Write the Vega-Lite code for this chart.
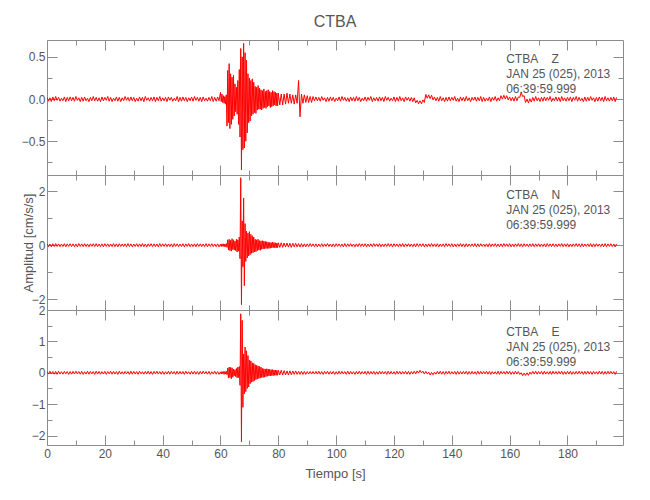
{
"$schema": "https://vega.github.io/schema/vega-lite/v6.json",
"padding": {"left": 20, "top": 14, "right": 5, "bottom": 5},
"title": {"text": "CTBA", "fontSize": 16, "font": "Liberation Sans", "color": "#555555", "fontWeight": "normal", "anchor": "middle", "frame": "group", "offset": 9},
"config": {
  "font": "Liberation Sans",
  "view": {"stroke": "#8c8c8c", "strokeWidth": 1},
  "axis": {"labelFont": "Liberation Sans", "labelFontSize": 12, "labelColor": "#555555", "tickColor": "#8c8c8c", "tickWidth": 1, "domain": false, "grid": false, "labelFlush": false, "labelOverlap": false, "labelBound": false, "titleFont": "Liberation Sans", "titleFontSize": 13, "titleFontWeight": "normal", "titleColor": "#555555"},
  "text": {"font": "Liberation Sans"}
},
"data": {"values": [
{"t":0,"z":0.02,"n":0.05,"e":0.045},{"t":0.5,"z":-0.025,"n":-0.055,"e":-0.04},{"t":1,"z":0.015,"n":0.045,"e":0.05},{"t":1.5,"z":-0.03,"n":-0.06,"e":-0.035},{"t":2,"z":0.025,"n":0.055,"e":0.04},{"t":2.5,"z":-0.02,"n":-0.05,"e":-0.045},{"t":3,"z":0.03,"n":0.06,"e":0.045},{"t":3.5,"z":-0.015,"n":-0.045,"e":-0.05},{"t":4,"z":0.02,"n":0.05,"e":0.05},{"t":4.5,"z":-0.025,"n":-0.055,"e":-0.04},
{"t":5,"z":0.01,"n":0.045,"e":0.035},{"t":5.5,"z":-0.02,"n":-0.05,"e":-0.045},{"t":6,"z":0.025,"n":0.055,"e":0.045},{"t":6.5,"z":-0.03,"n":-0.06,"e":-0.035},{"t":7,"z":0.02,"n":0.05,"e":0.04},{"t":7.5,"z":-0.02,"n":-0.045,"e":-0.05},{"t":8,"z":0.025,"n":0.055,"e":0.04},{"t":8.5,"z":-0.02,"n":-0.05,"e":-0.045},{"t":9,"z":0.02,"n":0.05,"e":0.045},{"t":9.5,"z":-0.025,"n":-0.055,"e":-0.04},
{"t":10,"z":0.03,"n":0.045,"e":0.05},{"t":10.5,"z":-0.015,"n":-0.06,"e":-0.035},{"t":11,"z":0.015,"n":0.06,"e":0.04},{"t":11.5,"z":-0.03,"n":-0.045,"e":-0.045},{"t":12,"z":0.02,"n":0.05,"e":0.045},{"t":12.5,"z":-0.025,"n":-0.055,"e":-0.05},{"t":13,"z":0.025,"n":0.055,"e":0.035},{"t":13.5,"z":-0.02,"n":-0.05,"e":-0.04},{"t":14,"z":0.01,"n":0.045,"e":0.05},{"t":14.5,"z":-0.03,"n":-0.06,"e":-0.045},
{"t":15,"z":0.02,"n":0.05,"e":0.045},{"t":15.5,"z":-0.02,"n":-0.045,"e":-0.035},{"t":16,"z":0.03,"n":0.055,"e":0.04},{"t":16.5,"z":-0.02,"n":-0.05,"e":-0.05},{"t":17,"z":0.02,"n":0.06,"e":0.05},{"t":17.5,"z":-0.025,"n":-0.055,"e":-0.04},{"t":18,"z":0.015,"n":0.045,"e":0.045},{"t":18.5,"z":-0.03,"n":-0.05,"e":-0.045},{"t":19,"z":0.025,"n":0.05,"e":0.035},{"t":19.5,"z":-0.02,"n":-0.06,"e":-0.04},
{"t":20,"z":0.02,"n":0.055,"e":0.045},{"t":20.5,"z":-0.015,"n":-0.045,"e":-0.05},{"t":21,"z":0.03,"n":0.05,"e":0.04},{"t":21.5,"z":-0.025,"n":-0.055,"e":-0.035},{"t":22,"z":0.02,"n":0.045,"e":0.05},{"t":22.5,"z":-0.03,"n":-0.05,"e":-0.045},{"t":23,"z":0.01,"n":0.06,"e":0.045},{"t":23.5,"z":-0.02,"n":-0.055,"e":-0.04},{"t":24,"z":0.025,"n":0.05,"e":0.04},{"t":24.5,"z":-0.025,"n":-0.06,"e":-0.05},
{"t":25,"z":0.02,"n":0.055,"e":0.05},{"t":25.5,"z":-0.03,"n":-0.045,"e":-0.04},{"t":26,"z":0.015,"n":0.045,"e":0.035},{"t":26.5,"z":-0.02,"n":-0.05,"e":-0.045},{"t":27,"z":0.03,"n":0.05,"e":0.045},{"t":27.5,"z":-0.015,"n":-0.055,"e":-0.035},{"t":28,"z":0.02,"n":0.06,"e":0.04},{"t":28.5,"z":-0.025,"n":-0.05,"e":-0.05},{"t":29,"z":0.025,"n":0.05,"e":0.05},{"t":29.5,"z":-0.02,"n":-0.06,"e":-0.045},
{"t":30,"z":0.02,"n":0.045,"e":0.045},{"t":30.5,"z":-0.03,"n":-0.045,"e":-0.04},{"t":31,"z":0.01,"n":0.055,"e":0.04},{"t":31.5,"z":-0.025,"n":-0.055,"e":-0.05},{"t":32,"z":0.025,"n":0.05,"e":0.05},{"t":32.5,"z":-0.02,"n":-0.05,"e":-0.035},{"t":33,"z":0.02,"n":0.06,"e":0.035},{"t":33.5,"z":-0.03,"n":-0.055,"e":-0.045},{"t":34,"z":0.03,"n":0.045,"e":0.045},{"t":34.5,"z":-0.015,"n":-0.06,"e":-0.04},
{"t":35,"z":0.015,"n":0.05,"e":0.05},{"t":35.5,"z":-0.025,"n":-0.045,"e":-0.045},{"t":36,"z":0.02,"n":0.055,"e":0.04},{"t":36.5,"z":-0.02,"n":-0.05,"e":-0.05},{"t":37,"z":0.025,"n":0.05,"e":0.045},{"t":37.5,"z":-0.03,"n":-0.055,"e":-0.035},{"t":38,"z":0.02,"n":0.045,"e":0.05},{"t":38.5,"z":-0.02,"n":-0.06,"e":-0.04},{"t":39,"z":0.03,"n":0.06,"e":0.04},{"t":39.5,"z":-0.025,"n":-0.05,"e":-0.045},
{"t":40,"z":0.015,"n":0.05,"e":0.045},{"t":40.5,"z":-0.02,"n":-0.045,"e":-0.05},{"t":41,"z":0.02,"n":0.055,"e":0.035},{"t":41.5,"z":-0.03,"n":-0.055,"e":-0.04},{"t":42,"z":0.025,"n":0.045,"e":0.05},{"t":42.5,"z":-0.015,"n":-0.05,"e":-0.045},{"t":43,"z":0.02,"n":0.05,"e":0.045},{"t":43.5,"z":-0.025,"n":-0.06,"e":-0.035},{"t":44,"z":0.01,"n":0.06,"e":0.04},{"t":44.5,"z":-0.02,"n":-0.045,"e":-0.05},
{"t":45,"z":0.03,"n":0.05,"e":0.05},{"t":45.5,"z":-0.03,"n":-0.055,"e":-0.045},{"t":46,"z":0.02,"n":0.045,"e":0.045},{"t":46.5,"z":-0.025,"n":-0.05,"e":-0.04},{"t":47,"z":0.025,"n":0.055,"e":0.04},{"t":47.5,"z":-0.02,"n":-0.06,"e":-0.05},{"t":48,"z":0.02,"n":0.05,"e":0.05},{"t":48.5,"z":-0.03,"n":-0.045,"e":-0.035},{"t":49,"z":0.015,"n":0.06,"e":0.035},{"t":49.5,"z":-0.02,"n":-0.055,"e":-0.045},
{"t":50,"z":0.025,"n":0.045,"e":0.045},{"t":50.5,"z":-0.025,"n":-0.05,"e":-0.04},{"t":51,"z":0.03,"n":0.05,"e":0.05},{"t":51.5,"z":-0.015,"n":-0.06,"e":-0.045},{"t":52,"z":0.02,"n":0.055,"e":0.04},{"t":52.5,"z":-0.025,"n":-0.045,"e":-0.05},{"t":53,"z":0.02,"n":0.05,"e":0.045},{"t":53.5,"z":-0.03,"n":-0.055,"e":-0.04},{"t":54,"z":0.025,"n":0.045,"e":0.05},{"t":54.5,"z":-0.02,"n":-0.05,"e":-0.035},
{"t":55,"z":0.01,"n":0.06,"e":0.04},{"t":55.5,"z":-0.025,"n":-0.06,"e":-0.045},{"t":56,"z":0.02,"n":0.05,"e":0.045},{"t":56.5,"z":-0.02,"n":-0.045,"e":-0.05},{"t":57,"z":0.03,"n":0.055,"e":0.035},{"t":57.5,"z":-0.03,"n":-0.05,"e":-0.04},{"t":58,"z":0.02,"n":0.045,"e":0.05},{"t":58.5,"z":-0.025,"n":-0.055,"e":-0.045},{"t":59,"z":0.025,"n":0.05,"e":0.04},{"t":59.5,"z":-0.02,"n":-0.06,"e":-0.05},
{"t":60,"z":0.08,"n":0.04,"e":0.03},{"t":60.25,"z":-0.03,"n":-0.05,"e":-0.04},{"t":60.5,"z":0.06,"n":0.05,"e":0.04},{"t":60.75,"z":-0.04,"n":-0.04,"e":-0.03},
{"t":61,"z":0.04,"n":0.05,"e":0.04},{"t":61.25,"z":-0.05,"n":-0.06,"e":-0.05},{"t":61.5,"z":0.03,"n":0.04,"e":0.04},{"t":61.75,"z":-0.06,"n":-0.05,"e":-0.04},
{"t":62,"z":0.05,"n":0.06,"e":0.05},{"t":62.25,"z":-0.32,"n":-0.08,"e":-0.06},{"t":62.5,"z":0.34,"n":0.2,"e":0.15},{"t":62.75,"z":-0.28,"n":-0.18,"e":-0.17},
{"t":63,"z":0.42,"n":0.22,"e":0.18},{"t":63.25,"z":-0.35,"n":-0.2,"e":-0.15},{"t":63.5,"z":0.3,"n":0.18,"e":0.17},{"t":63.75,"z":-0.3,"n":-0.22,"e":-0.19},
{"t":64,"z":0.26,"n":0.24,"e":0.16},{"t":64.25,"z":-0.24,"n":-0.16,"e":-0.14},{"t":64.5,"z":0.28,"n":0.2,"e":0.12},{"t":64.75,"z":-0.2,"n":-0.18,"e":-0.1},
{"t":65,"z":0.18,"n":0.15,"e":0.1},{"t":65.25,"z":-0.15,"n":-0.2,"e":-0.12},{"t":65.5,"z":0.14,"n":0.22,"e":0.14},{"t":65.75,"z":-0.18,"n":-0.25,"e":-0.16},
{"t":66,"z":0.22,"n":0.2,"e":0.18},{"t":66.25,"z":-0.3,"n":-0.22,"e":-0.15},{"t":66.5,"z":0.35,"n":0.3,"e":0.2},{"t":66.75,"z":-0.45,"n":-0.5,"e":-0.4},
{"t":67,"z":0.6,"n":2.5,"e":1.88},{"t":67.25,"z":-0.84,"n":-2.2,"e":-2.2},{"t":67.5,"z":0.5,"n":0.9,"e":1.67},{"t":67.75,"z":-0.6,"n":-0.8,"e":-1.1},
{"t":68,"z":0.66,"n":1.75,"e":0.6},{"t":68.25,"z":-0.58,"n":-1.5,"e":-0.67},{"t":68.5,"z":0.55,"n":0.8,"e":0.82},{"t":68.75,"z":-0.5,"n":-0.6,"e":-0.6},
{"t":69,"z":0.46,"n":0.52,"e":0.7},{"t":69.25,"z":-0.4,"n":-0.47,"e":-0.5},{"t":69.5,"z":0.3,"n":0.45,"e":0.55},{"t":69.75,"z":-0.28,"n":-0.4,"e":-0.45},
{"t":70,"z":0.25,"n":0.5,"e":0.4},{"t":70.25,"z":-0.26,"n":-0.35,"e":-0.35},{"t":70.5,"z":0.22,"n":0.4,"e":0.38},{"t":70.75,"z":-0.2,"n":-0.3,"e":-0.3},
{"t":71,"z":0.24,"n":0.35,"e":0.32},{"t":71.25,"z":-0.18,"n":-0.28,"e":-0.28},{"t":71.5,"z":0.2,"n":0.3,"e":0.3},{"t":71.75,"z":-0.16,"n":-0.25,"e":-0.25},
{"t":72,"z":0.15,"n":0.22,"e":0.26},{"t":72.25,"z":-0.17,"n":-0.24,"e":-0.22},{"t":72.5,"z":0.14,"n":0.2,"e":0.24},{"t":72.75,"z":-0.13,"n":-0.2,"e":-0.2},
{"t":73,"z":0.16,"n":0.22,"e":0.22},{"t":73.25,"z":-0.12,"n":-0.18,"e":-0.18},{"t":73.5,"z":0.13,"n":0.17,"e":0.2},{"t":73.75,"z":-0.12,"n":-0.19,"e":-0.17},
{"t":74,"z":0.11,"n":0.16,"e":0.18},{"t":74.25,"z":-0.13,"n":-0.15,"e":-0.15},{"t":74.5,"z":0.1,"n":0.17,"e":0.14},{"t":74.75,"z":-0.11,"n":-0.14,"e":-0.15},
{"t":75,"z":0.12,"n":0.15,"e":0.13},{"t":75.25,"z":-0.1,"n":-0.13,"e":-0.14},{"t":75.5,"z":0.09,"n":0.14,"e":0.12},{"t":75.75,"z":-0.11,"n":-0.12,"e":-0.12},
{"t":76,"z":0.1,"n":0.13,"e":0.13},{"t":76.25,"z":-0.09,"n":-0.12,"e":-0.11},{"t":76.5,"z":0.11,"n":0.11,"e":0.12},{"t":76.75,"z":-0.08,"n":-0.12,"e":-0.1},
{"t":77,"z":0.09,"n":0.1,"e":0.11},{"t":77.25,"z":-0.1,"n":-0.11,"e":-0.1},{"t":77.5,"z":0.08,"n":0.1,"e":0.1},{"t":77.75,"z":-0.09,"n":-0.1,"e":-0.09},
{"t":78,"z":0.1,"n":0.11,"e":0.1},{"t":78.25,"z":-0.08,"n":-0.09,"e":-0.09},{"t":78.5,"z":0.09,"n":0.1,"e":0.09},{"t":78.75,"z":-0.07,"n":-0.09,"e":-0.08},
{"t":79,"z":0.08,"n":0.09,"e":0.09},{"t":79.25,"z":-0.08,"n":-0.1,"e":-0.08},{"t":79.5,"z":0.07,"n":0.08,"e":0.08},{"t":79.75,"z":-0.08,"n":-0.09,"e":-0.08},
{"t":80,"z":0.07,"n":0.09,"e":0.08},{"t":80.5,"z":-0.07,"n":-0.08,"e":-0.07},{"t":81,"z":0.06,"n":0.09,"e":0.08},{"t":81.5,"z":-0.07,"n":-0.08,"e":-0.07},
{"t":82,"z":0.06,"n":0.08,"e":0.07},{"t":82.5,"z":-0.06,"n":-0.07,"e":-0.07},{"t":83,"z":0.07,"n":0.08,"e":0.06},{"t":83.5,"z":-0.05,"n":-0.07,"e":-0.07},
{"t":84,"z":0.06,"n":0.07,"e":0.06},{"t":84.5,"z":-0.05,"n":-0.08,"e":-0.06},{"t":85,"z":0.05,"n":0.07,"e":0.06},{"t":85.5,"z":-0.06,"n":-0.06,"e":-0.05},
{"t":86,"z":0.05,"n":0.07,"e":0.06},{"t":86.5,"z":-0.05,"n":-0.06,"e":-0.05},{"t":87,"z":0.22,"n":0.06,"e":0.05},{"t":87.5,"z":-0.21,"n":-0.07,"e":-0.05},
{"t":88,"z":0.06,"n":0.06,"e":0.05},{"t":88.5,"z":-0.05,"n":-0.06,"e":-0.05},{"t":89,"z":0.05,"n":0.05,"e":0.04},{"t":89.5,"z":-0.04,"n":-0.06,"e":-0.05},
{"t":90,"z":0.04,"n":0.05,"e":0.04},{"t":90.5,"z":-0.04,"n":-0.05,"e":-0.04},{"t":91,"z":0.03,"n":0.06,"e":0.04},{"t":91.5,"z":-0.04,"n":-0.05,"e":-0.04},
{"t":92,"z":0.03,"n":0.05,"e":0.04},{"t":92.5,"z":-0.02,"n":-0.055,"e":-0.04},
{"t":93,"z":0.025,"n":0.05,"e":0.045},{"t":93.5,"z":-0.02,"n":-0.06,"e":-0.04},{"t":94,"z":0.02,"n":0.045,"e":0.05},{"t":94.5,"z":-0.025,"n":-0.05,"e":-0.045},{"t":95,"z":0.03,"n":0.055,"e":0.04},{"t":95.5,"z":-0.015,"n":-0.055,"e":-0.05},{"t":96,"z":0.015,"n":0.05,"e":0.045},{"t":96.5,"z":-0.03,"n":-0.045,"e":-0.035},
{"t":97,"z":0.02,"n":0.06,"e":0.05},{"t":97.5,"z":-0.025,"n":-0.05,"e":-0.045},{"t":98,"z":0.025,"n":0.045,"e":0.04},{"t":98.5,"z":-0.02,"n":-0.06,"e":-0.04},{"t":99,"z":0.02,"n":0.05,"e":0.045},{"t":99.5,"z":-0.03,"n":-0.055,"e":-0.05},
{"t":100,"z":0.01,"n":0.055,"e":0.035},{"t":100.5,"z":-0.02,"n":-0.045,"e":-0.045},{"t":101,"z":0.025,"n":0.05,"e":0.05},{"t":101.5,"z":-0.025,"n":-0.05,"e":-0.04},{"t":102,"z":0.03,"n":0.045,"e":0.045},{"t":102.5,"z":-0.015,"n":-0.06,"e":-0.035},{"t":103,"z":0.02,"n":0.06,"e":0.04},{"t":103.5,"z":-0.025,"n":-0.055,"e":-0.05},
{"t":104,"z":0.015,"n":0.05,"e":0.05},{"t":104.5,"z":-0.03,"n":-0.045,"e":-0.045},{"t":105,"z":0.025,"n":0.055,"e":0.045},{"t":105.5,"z":-0.02,"n":-0.05,"e":-0.04},{"t":106,"z":0.02,"n":0.045,"e":0.035},{"t":106.5,"z":-0.025,"n":-0.06,"e":-0.05},{"t":107,"z":0.03,"n":0.05,"e":0.045},{"t":107.5,"z":-0.02,"n":-0.055,"e":-0.04},
{"t":108,"z":0.02,"n":0.06,"e":0.05},{"t":108.5,"z":-0.03,"n":-0.045,"e":-0.045},{"t":109,"z":0.01,"n":0.05,"e":0.04},{"t":109.5,"z":-0.02,"n":-0.05,"e":-0.035},{"t":110,"z":0.025,"n":0.055,"e":0.045},{"t":110.5,"z":-0.025,"n":-0.06,"e":-0.05},{"t":111,"z":0.02,"n":0.045,"e":0.05},{"t":111.5,"z":-0.015,"n":-0.05,"e":-0.045},
{"t":112,"z":0.03,"n":0.05,"e":0.04},{"t":112.5,"z":-0.03,"n":-0.055,"e":-0.04},{"t":113,"z":0.015,"n":0.06,"e":0.045},{"t":113.5,"z":-0.02,"n":-0.045,"e":-0.05},{"t":114,"z":0.02,"n":0.05,"e":0.035},{"t":114.5,"z":-0.025,"n":-0.05,"e":-0.045},{"t":115,"z":0.025,"n":0.055,"e":0.05},{"t":115.5,"z":-0.02,"n":-0.06,"e":-0.04},
{"t":116,"z":0.02,"n":0.045,"e":0.045},{"t":116.5,"z":-0.03,"n":-0.055,"e":-0.035},{"t":117,"z":0.03,"n":0.05,"e":0.04},{"t":117.5,"z":-0.015,"n":-0.045,"e":-0.05},{"t":118,"z":0.02,"n":0.06,"e":0.05},{"t":118.5,"z":-0.025,"n":-0.05,"e":-0.045},{"t":119,"z":0.01,"n":0.05,"e":0.045},{"t":119.5,"z":-0.02,"n":-0.06,"e":-0.04},
{"t":120,"z":0.025,"n":0.055,"e":0.035},{"t":120.5,"z":-0.03,"n":-0.045,"e":-0.05},{"t":121,"z":0.02,"n":0.045,"e":0.05},{"t":121.5,"z":-0.025,"n":-0.055,"e":-0.04},{"t":122,"z":0.03,"n":0.05,"e":0.045},{"t":122.5,"z":-0.02,"n":-0.05,"e":-0.045},{"t":123,"z":0.015,"n":0.06,"e":0.04},{"t":123.5,"z":-0.03,"n":-0.06,"e":-0.035},
{"t":124,"z":0.025,"n":0.05,"e":0.05},{"t":124.5,"z":-0.015,"n":-0.045,"e":-0.045},{"t":125,"z":0.02,"n":0.055,"e":0.045},{"t":125.5,"z":-0.025,"n":-0.05,"e":-0.05},{"t":126,"z":0.02,"n":0.045,"e":0.04},{"t":126.5,"z":-0.03,"n":-0.055,"e":-0.04},{"t":127,"z":0.015,"n":0.05,"e":0.05},{"t":127.5,"z":-0.045,"n":-0.06,"e":-0.035},
{"t":128,"z":-0.015,"n":0.06,"e":0.06},{"t":128.5,"z":-0.055,"n":-0.045,"e":-0.01},{"t":129,"z":-0.02,"n":0.05,"e":0.08},{"t":129.5,"z":-0.055,"n":-0.05,"e":-0.005},{"t":130,"z":-0.01,"n":0.055,"e":0.05},{"t":130.5,"z":-0.04,"n":-0.06,"e":-0.04},{"t":131,"z":0.055,"n":0.045,"e":0.045},{"t":131.5,"z":0.01,"n":-0.055,"e":-0.035},
{"t":132,"z":0.05,"n":0.05,"e":0.02},{"t":132.5,"z":0.005,"n":-0.05,"e":-0.07},{"t":133,"z":0.045,"n":0.06,"e":0.015},{"t":133.5,"z":-0.01,"n":-0.045,"e":-0.065},{"t":134,"z":0.025,"n":0.05,"e":0.02},{"t":134.5,"z":-0.02,"n":-0.055,"e":-0.045},{"t":135,"z":0.02,"n":0.055,"e":0.045},{"t":135.5,"z":-0.025,"n":-0.06,"e":-0.04},
{"t":136,"z":0.03,"n":0.045,"e":0.05},{"t":136.5,"z":-0.02,"n":-0.05,"e":-0.045},{"t":137,"z":0.015,"n":0.05,"e":0.04},{"t":137.5,"z":-0.03,"n":-0.055,"e":-0.05},{"t":138,"z":0.02,"n":0.06,"e":0.045},{"t":138.5,"z":-0.025,"n":-0.045,"e":-0.035},{"t":139,"z":0.025,"n":0.05,"e":0.05},{"t":139.5,"z":-0.02,"n":-0.05,"e":-0.045},
{"t":140,"z":0.02,"n":0.055,"e":0.035},{"t":140.5,"z":-0.015,"n":-0.06,"e":-0.04},{"t":141,"z":0.03,"n":0.045,"e":0.045},{"t":141.5,"z":-0.025,"n":-0.055,"e":-0.05},{"t":142,"z":0.01,"n":0.05,"e":0.05},{"t":142.5,"z":-0.03,"n":-0.045,"e":-0.045},{"t":143,"z":0.025,"n":0.06,"e":0.04},{"t":143.5,"z":-0.02,"n":-0.05,"e":-0.04},
{"t":144,"z":0.02,"n":0.05,"e":0.045},{"t":144.5,"z":-0.025,"n":-0.06,"e":-0.035},{"t":145,"z":0.03,"n":0.055,"e":0.05},{"t":145.5,"z":-0.02,"n":-0.055,"e":-0.05},{"t":146,"z":0.015,"n":0.045,"e":0.04},{"t":146.5,"z":-0.03,"n":-0.045,"e":-0.045},{"t":147,"z":0.02,"n":0.05,"e":0.045},{"t":147.5,"z":-0.015,"n":-0.05,"e":-0.04},
{"t":148,"z":0.025,"n":0.06,"e":0.035},{"t":148.5,"z":-0.025,"n":-0.06,"e":-0.05},{"t":149,"z":0.02,"n":0.05,"e":0.05},{"t":149.5,"z":-0.02,"n":-0.055,"e":-0.045},{"t":150,"z":0.03,"n":0.055,"e":0.045},{"t":150.5,"z":-0.03,"n":-0.045,"e":-0.04},{"t":151,"z":0.02,"n":0.045,"e":0.04},{"t":151.5,"z":-0.025,"n":-0.05,"e":-0.035},
{"t":152,"z":0.01,"n":0.05,"e":0.05},{"t":152.5,"z":-0.02,"n":-0.06,"e":-0.045},{"t":153,"z":0.025,"n":0.06,"e":0.045},{"t":153.5,"z":-0.03,"n":-0.055,"e":-0.05},{"t":154,"z":0.02,"n":0.05,"e":0.04},{"t":154.5,"z":-0.015,"n":-0.045,"e":-0.04},{"t":155,"z":0.03,"n":0.055,"e":0.035},{"t":155.5,"z":-0.025,"n":-0.05,"e":-0.045},
{"t":156,"z":0.015,"n":0.045,"e":0.05},{"t":156.5,"z":-0.02,"n":-0.06,"e":-0.05},{"t":157,"z":0.04,"n":0.05,"e":0.045},{"t":157.5,"z":0.0,"n":-0.055,"e":-0.035},{"t":158,"z":0.045,"n":0.06,"e":0.04},{"t":158.5,"z":0.0,"n":-0.045,"e":-0.045},{"t":159,"z":0.04,"n":0.05,"e":0.05},{"t":159.5,"z":-0.01,"n":-0.05,"e":-0.04},
{"t":160,"z":0.025,"n":0.055,"e":0.045},{"t":160.5,"z":-0.02,"n":-0.06,"e":-0.05},{"t":161,"z":0.02,"n":0.045,"e":0.035},{"t":161.5,"z":-0.025,"n":-0.055,"e":-0.045},{"t":162,"z":0.03,"n":0.05,"e":0.05},{"t":162.5,"z":-0.02,"n":-0.045,"e":-0.04},{"t":163,"z":0.025,"n":0.06,"e":0.04},{"t":163.5,"z":0.02,"n":-0.05,"e":-0.05},
{"t":164,"z":0.08,"n":0.05,"e":0.0},{"t":164.5,"z":0.03,"n":-0.06,"e":-0.09},{"t":165,"z":0.04,"n":0.055,"e":-0.01},{"t":165.5,"z":-0.04,"n":-0.045,"e":-0.085},{"t":166,"z":0.0,"n":0.045,"e":0.0},{"t":166.5,"z":-0.045,"n":-0.055,"e":-0.08},{"t":167,"z":0.005,"n":0.05,"e":0.02},{"t":167.5,"z":-0.035,"n":-0.05,"e":-0.045},
{"t":168,"z":0.02,"n":0.06,"e":0.045},{"t":168.5,"z":-0.025,"n":-0.06,"e":-0.04},{"t":169,"z":0.03,"n":0.05,"e":0.05},{"t":169.5,"z":-0.02,"n":-0.045,"e":-0.045},{"t":170,"z":0.015,"n":0.055,"e":0.04},{"t":170.5,"z":-0.03,"n":-0.055,"e":-0.035},{"t":171,"z":0.02,"n":0.045,"e":0.045},{"t":171.5,"z":-0.025,"n":-0.05,"e":-0.05},
{"t":172,"z":0.025,"n":0.05,"e":0.05},{"t":172.5,"z":-0.02,"n":-0.06,"e":-0.04},{"t":173,"z":0.02,"n":0.06,"e":0.035},{"t":173.5,"z":-0.015,"n":-0.045,"e":-0.045},{"t":174,"z":0.03,"n":0.05,"e":0.045},{"t":174.5,"z":-0.03,"n":-0.055,"e":-0.05},{"t":175,"z":0.01,"n":0.055,"e":0.05},{"t":175.5,"z":-0.02,"n":-0.05,"e":-0.04},
{"t":176,"z":0.025,"n":0.045,"e":0.04},{"t":176.5,"z":-0.025,"n":-0.06,"e":-0.045},{"t":177,"z":0.02,"n":0.05,"e":0.045},{"t":177.5,"z":-0.03,"n":-0.045,"e":-0.035},{"t":178,"z":0.03,"n":0.06,"e":0.05},{"t":178.5,"z":-0.02,"n":-0.055,"e":-0.05},{"t":179,"z":0.015,"n":0.05,"e":0.04},{"t":179.5,"z":-0.025,"n":-0.05,"e":-0.045},
{"t":180,"z":0.02,"n":0.055,"e":0.045},{"t":180.5,"z":-0.02,"n":-0.06,"e":-0.04},{"t":181,"z":0.025,"n":0.045,"e":0.05},{"t":181.5,"z":-0.03,"n":-0.055,"e":-0.05},{"t":182,"z":0.02,"n":0.05,"e":0.035},{"t":182.5,"z":-0.015,"n":-0.045,"e":-0.045},{"t":183,"z":0.03,"n":0.06,"e":0.045},{"t":183.5,"z":-0.025,"n":-0.05,"e":-0.04},
{"t":184,"z":0.02,"n":0.05,"e":0.05},{"t":184.5,"z":-0.02,"n":-0.06,"e":-0.035},{"t":185,"z":0.01,"n":0.055,"e":0.04},{"t":185.5,"z":-0.03,"n":-0.055,"e":-0.05},{"t":186,"z":0.025,"n":0.045,"e":0.045},{"t":186.5,"z":-0.025,"n":-0.045,"e":-0.045},{"t":187,"z":0.02,"n":0.05,"e":0.05},{"t":187.5,"z":-0.02,"n":-0.05,"e":-0.04},
{"t":188,"z":0.03,"n":0.06,"e":0.04},{"t":188.5,"z":-0.015,"n":-0.06,"e":-0.05},{"t":189,"z":0.015,"n":0.05,"e":0.045},{"t":189.5,"z":-0.03,"n":-0.055,"e":-0.035},{"t":190,"z":0.02,"n":0.055,"e":0.035},{"t":190.5,"z":-0.025,"n":-0.045,"e":-0.045},{"t":191,"z":0.025,"n":0.045,"e":0.05},{"t":191.5,"z":-0.02,"n":-0.05,"e":-0.04},
{"t":192,"z":0.02,"n":0.05,"e":0.045},{"t":192.5,"z":-0.03,"n":-0.06,"e":-0.05},{"t":193,"z":0.03,"n":0.06,"e":0.04},{"t":193.5,"z":-0.02,"n":-0.055,"e":-0.045},{"t":194,"z":0.015,"n":0.05,"e":0.05},{"t":194.5,"z":-0.025,"n":-0.045,"e":-0.04},{"t":195,"z":0.02,"n":0.055,"e":0.045},{"t":195.5,"z":-0.02,"n":-0.05,"e":-0.035},
{"t":196,"z":0.025,"n":0.045,"e":0.04},{"t":196.5,"z":-0.03,"n":-0.06,"e":-0.05},{"t":197,"z":0.02,"n":0.05,"e":0.045}
]},
"spacing": 0,
"bounds": "flush",
"vconcat": [
{
  "width": 576, "height": 135,
  "resolve": {"axis": {"x": "independent", "y": "independent"}},
  "layer": [
    {"mark": {"type": "line", "color": "#ff0000", "strokeWidth": 1, "clip": true},
     "encoding": {
       "x": {"field": "t", "type": "quantitative", "scale": {"domain": [0, 199.2], "nice": false, "zero": false},
             "axis": {"orient": "bottom", "values": [0,10,20,30,40,50,60,70,80,90,100,110,120,130,140,150,160,170,180,190], "labels": false, "title": null, "tickSize": {"condition": {"test": "datum.value % 20 === 0", "value": -10}, "value": -5}}},
       "y": {"field": "z", "type": "quantitative", "scale": {"domain": [-0.9, 0.7], "nice": false, "zero": false},
             "axis": {"orient": "left", "values": [-0.75,-0.5,-0.25,0,0.25,0.5], "title": null, "labelPadding": 12, "labelExpr": "(datum.value*4) % 2 === 0 ? format(datum.value, '.1f') : ''", "tickSize": {"condition": {"test": "(datum.value*4) % 2 === 0", "value": -10}, "value": -5}}}
     }},
    {"transform": [{"filter": "datum.t === 0"}],
     "mark": {"type": "point", "opacity": 0},
     "encoding": {
       "x": {"field": "t", "type": "quantitative", "scale": {"domain": [0, 199.2], "nice": false, "zero": false},
             "axis": {"orient": "top", "values": [0,10,20,30,40,50,60,70,80,90,100,110,120,130,140,150,160,170,180,190], "labels": false, "title": null, "tickSize": {"condition": {"test": "datum.value % 20 === 0", "value": -10}, "value": -5}}},
       "y": {"field": "z", "type": "quantitative", "scale": {"domain": [-0.9, 0.7], "nice": false, "zero": false},
             "axis": {"orient": "right", "values": [-0.75,-0.5,-0.25,0,0.25,0.5], "labels": false, "title": null, "tickSize": {"condition": {"test": "(datum.value*4) % 2 === 0", "value": -10}, "value": -5}}}
     }},
    {"data": {"values": [{"t": 158.8, "z": 0.53, "label": "CTBA\u00a0\u00a0\u00a0\u00a0Z\nJAN 25 (025), 2013\n06:39:59.999"}]},
     "mark": {"type": "text", "align": "left", "baseline": "top", "lineBreak": "\n", "fontSize": 12, "lineHeight": 15, "color": "#555555"},
     "encoding": {
       "x": {"field": "t", "type": "quantitative", "scale": {"domain": [0, 199.2], "nice": false, "zero": false}, "axis": null},
       "y": {"field": "z", "type": "quantitative", "scale": {"domain": [-0.9, 0.7], "nice": false, "zero": false}, "axis": null},
       "text": {"field": "label"}
     }}
  ]
},
{
  "width": 576, "height": 135,
  "resolve": {"axis": {"x": "independent", "y": "independent"}},
  "layer": [
    {"mark": {"type": "line", "color": "#ff0000", "strokeWidth": 1, "clip": true},
     "encoding": {
       "x": {"field": "t", "type": "quantitative", "scale": {"domain": [0, 199.2], "nice": false, "zero": false},
             "axis": {"orient": "bottom", "values": [0,10,20,30,40,50,60,70,80,90,100,110,120,130,140,150,160,170,180,190], "labels": false, "title": null, "tickSize": {"condition": {"test": "datum.value % 20 === 0", "value": -10}, "value": -5}}},
       "y": {"field": "n", "type": "quantitative", "scale": {"domain": [-2.4, 2.6], "nice": false, "zero": false},
             "axis": {"orient": "left", "values": [-2,-1,0,1,2], "title": "Amplitud [cm/s/s]", "titlePadding": -4, "labelPadding": 12, "labelExpr": "datum.value % 2 === 0 ? format(datum.value, 'd') : ''", "tickSize": {"condition": {"test": "datum.value % 2 === 0", "value": -10}, "value": -5}}}
     }},
    {"transform": [{"filter": "datum.t === 0"}],
     "mark": {"type": "point", "opacity": 0},
     "encoding": {
       "x": {"field": "t", "type": "quantitative", "scale": {"domain": [0, 199.2], "nice": false, "zero": false},
             "axis": {"orient": "top", "values": [0,10,20,30,40,50,60,70,80,90,100,110,120,130,140,150,160,170,180,190], "labels": false, "title": null, "tickSize": {"condition": {"test": "datum.value % 20 === 0", "value": -10}, "value": -5}}},
       "y": {"field": "n", "type": "quantitative", "scale": {"domain": [-2.4, 2.6], "nice": false, "zero": false},
             "axis": {"orient": "right", "values": [-2,-1,0,1,2], "labels": false, "title": null, "tickSize": {"condition": {"test": "datum.value % 2 === 0", "value": -10}, "value": -5}}}
     }},
    {"data": {"values": [{"t": 158.8, "n": 2.06, "label": "CTBA\u00a0\u00a0\u00a0\u00a0N\nJAN 25 (025), 2013\n06:39:59.999"}]},
     "mark": {"type": "text", "align": "left", "baseline": "top", "lineBreak": "\n", "fontSize": 12, "lineHeight": 15, "color": "#555555"},
     "encoding": {
       "x": {"field": "t", "type": "quantitative", "scale": {"domain": [0, 199.2], "nice": false, "zero": false}, "axis": null},
       "y": {"field": "n", "type": "quantitative", "scale": {"domain": [-2.4, 2.6], "nice": false, "zero": false}, "axis": null},
       "text": {"field": "label"}
     }}
  ]
},
{
  "width": 576, "height": 135,
  "resolve": {"axis": {"x": "independent", "y": "independent"}},
  "layer": [
    {"mark": {"type": "line", "color": "#ff0000", "strokeWidth": 1, "clip": true},
     "encoding": {
       "x": {"field": "t", "type": "quantitative", "scale": {"domain": [0, 199.2], "nice": false, "zero": false},
             "axis": {"orient": "bottom", "values": [0,10,20,30,40,50,60,70,80,90,100,110,120,130,140,150,160,170,180,190], "title": "Tiempo [s]", "titlePadding": 3, "labelPadding": 13, "labelDx": -3, "labelExpr": "datum.value % 20 === 0 ? datum.label : ''", "tickSize": {"condition": {"test": "datum.value % 20 === 0", "value": -10}, "value": -5}}},
       "y": {"field": "e", "type": "quantitative", "scale": {"domain": [-2.3, 2.0], "nice": false, "zero": false},
             "axis": {"orient": "left", "values": [-2,-1.5,-1,-0.5,0,0.5,1,1.5,2], "title": null, "labelPadding": 12, "labelExpr": "datum.value % 1 === 0 ? format(datum.value, 'd') : ''", "tickSize": {"condition": {"test": "datum.value % 1 === 0", "value": -10}, "value": -5}}}
     }},
    {"transform": [{"filter": "datum.t === 0"}],
     "mark": {"type": "point", "opacity": 0},
     "encoding": {
       "x": {"field": "t", "type": "quantitative", "scale": {"domain": [0, 199.2], "nice": false, "zero": false},
             "axis": {"orient": "top", "values": [0,10,20,30,40,50,60,70,80,90,100,110,120,130,140,150,160,170,180,190], "labels": false, "title": null, "tickSize": {"condition": {"test": "datum.value % 20 === 0", "value": -10}, "value": -5}}},
       "y": {"field": "e", "type": "quantitative", "scale": {"domain": [-2.3, 2.0], "nice": false, "zero": false},
             "axis": {"orient": "right", "values": [-2,-1.5,-1,-0.5,0,0.5,1,1.5,2], "labels": false, "title": null, "tickSize": {"condition": {"test": "datum.value % 1 === 0", "value": -10}, "value": -5}}}
     }},
    {"data": {"values": [{"t": 158.8, "e": 1.47, "label": "CTBA\u00a0\u00a0\u00a0\u00a0E\nJAN 25 (025), 2013\n06:39:59.999"}]},
     "mark": {"type": "text", "align": "left", "baseline": "top", "lineBreak": "\n", "fontSize": 12, "lineHeight": 15, "color": "#555555"},
     "encoding": {
       "x": {"field": "t", "type": "quantitative", "scale": {"domain": [0, 199.2], "nice": false, "zero": false}, "axis": null},
       "y": {"field": "e", "type": "quantitative", "scale": {"domain": [-2.3, 2.0], "nice": false, "zero": false}, "axis": null},
       "text": {"field": "label"}
     }}
  ]
}
]
}
